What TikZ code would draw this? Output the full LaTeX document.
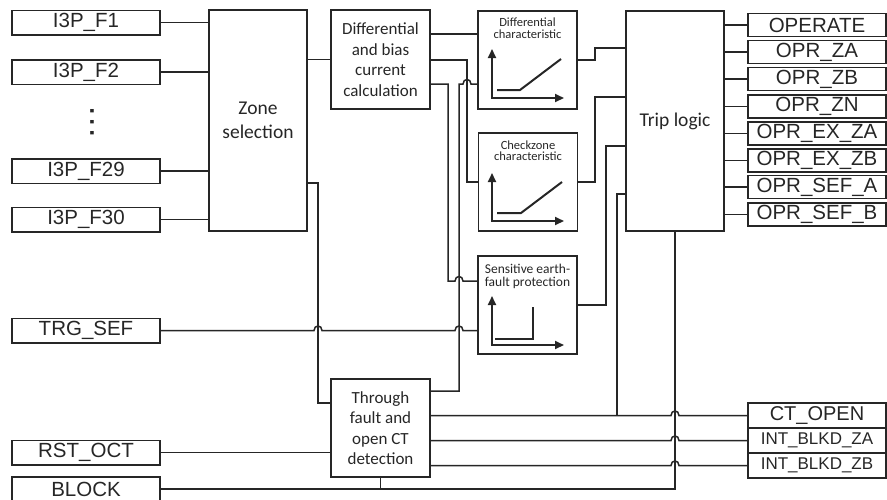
\documentclass[tikz,border=0pt]{standalone}
\usepackage{fontspec}
\newfontfamily\arialf{Liberation Sans}
\newfontfamily\calib{Carlito}
\usetikzlibrary{arrows.meta}
\definecolor{ink}{RGB}{38,38,38}
\begin{document}
\begin{tikzpicture}[x=1pt,y=-1pt,
  box/.style={draw=ink, line width=1.5pt, inner sep=0pt, align=center, text=ink},
  lab/.style={box, minimum width=148pt, minimum height=24.5pt, font=\arialf\fontsize{20.5}{22}\selectfont},
  olab/.style={box, minimum width=138pt, minimum height=23pt, font=\arialf\fontsize{20.5}{22}\selectfont},
  blab/.style={box, minimum width=138pt, minimum height=25pt, font=\arialf\fontsize{20}{22}\selectfont},
  slab/.style={box, minimum width=138pt, minimum height=25pt, font=\arialf\fontsize{17}{20}\selectfont},
  fbox/.style={box, font=\calib\fontsize{17}{20.5}\selectfont},
  cbox/.style={box, minimum width=99pt, minimum height=98pt},
  ctxt/.style={inner sep=0pt, align=center, text=ink, anchor=north, font=\calib\fontsize{12.5}{11.5}\selectfont},
  wire/.style={draw=ink, line width=1.5pt},
  axis/.style={draw=ink, line width=2pt, {Triangle[length=9pt,width=8pt]}-{Triangle[length=9pt,width=8pt]}},
  crv/.style={draw=ink, line width=2pt}]
\useasboundingbox (0,0) rectangle (887,499);

% inputs
\node[lab] (in1) at (86,22.5) {I3P\_F1};
\node[lab] (in2) at (86,72) {I3P\_F2};
\node[inner sep=0pt, text=ink, rotate=90, font=\arialf\bfseries\fontsize{24}{24}\selectfont] (dots) at (92,122) {.\hspace{4.3pt}.\hspace{4.3pt}.};
\node[lab] (in29) at (86,171) {I3P\_F29};
\node[lab] (in30) at (86,219.5) {I3P\_F30};
\node[lab] (trg) at (86,330.5) {TRG\_SEF};
\node[lab] (rst) at (86,452.5) {RST\_OCT};
\node[lab] (blk) at (86,489) {BLOCK};

% function blocks
\node[box, minimum width=98pt, minimum height=221pt, font=\calib\fontsize{19.5}{23.5}\selectfont] (zone) at (258,120.5) {Zone\\selection};
\node[fbox, minimum width=99pt, minimum height=99pt] (dbc) at (380.5,59.5) {Differential\\and bias\\current\\calculation};
\node[fbox, minimum width=99pt, minimum height=98pt] (tf) at (380.5,428) {Through\\fault and\\open CT\\detection};
\node[box, minimum width=98pt, minimum height=220pt, font=\calib\fontsize{19.5}{23}\selectfont] (trip) at (675,121) {Trip logic};

\node[cbox] (dc) at (527.5,60) {};
\node[ctxt] (dct) at (527.5,18) {Differential\\characteristic};
\node[cbox] (cz) at (528,182) {};
\node[ctxt] (czt) at (528,140.5) {Checkzone\\characteristic};
\node[cbox] (sef) at (527.5,305) {};
\node[ctxt, font=\calib\fontsize{13.5}{12.5}\selectfont] (seft) at (527.5,264) {Sensitive earth-\\fault protection};

% characteristic graphs
\draw[axis] (492,49) -- (492,98) -- (564,98);
\draw[crv] (497,90) -- (520,90) -- (561,59);
\draw[axis] (492,173) -- (492,221) -- (564,221);
\draw[crv] (497,213) -- (521,213) -- (562,182);
\draw[axis] (492,296) -- (492,345) -- (564,345);
\draw[crv] (495,339) -- (533,339) -- (533,307);

% outputs
\node[olab] (o1) at (817,25) {OPERATE};
\node[olab] (o2) at (817,52) {OPR\_ZA};
\node[olab] (o3) at (817,79) {OPR\_ZB};
\node[olab] (o4) at (817,106.5) {OPR\_ZN};
\node[olab] (o5) at (817,133.5) {OPR\_EX\_ZA};
\node[olab] (o6) at (817,160.5) {OPR\_EX\_ZB};
\node[olab] (o7) at (817,187) {OPR\_SEF\_A};
\node[olab] (o8) at (817,214.5) {OPR\_SEF\_B};
\node[blab] (co) at (817,415.5) {CT\_OPEN};
\node[slab] (za) at (817,440.5) {INT\_BLKD\_ZA};
\node[slab] (zb) at (817,465.5) {INT\_BLKD\_ZB};

% wires
\foreach \n in {in1,in2,in29,in30} \draw[wire] (\n.east) -- (zone.west |- \n.east);
\foreach \n in {o1,o2,o3,o4,o5,o6,o7,o8} \draw[wire] (trip.east |- \n.west) -- (\n.west);

\draw[wire] (zone.east |- dbc.west) -- (dbc.west);
\draw[wire] (zone.east |- 0,183) -- (318,183) -- (318,403) -- (tf.west |- 0,403);

\draw[wire] (dbc.east |- 0,34) -- (dc.west |- 0,34);
\draw[wire] (dbc.east |- 0,60) -- (467,60) -- (467,182) -- (cz.west);
\draw[wire] (dbc.east |- 0,84) -- (448,84) -- (448,281) -- (455,281)
  .. controls (455,275) and (463,275) .. (463,281) -- (sef.west |- 0,281);
\draw[wire] (tf.east |- 0,391) -- (459,391) -- (459,84) -- (463,84)
  .. controls (463,78) and (471,78) .. (471,84) -- (dc.west |- 0,84);

\draw[wire] (trg.east) -- (314,330.5) .. controls (314,324.5) and (322,324.5) .. (322,330.5)
  -- (455,330.5) .. controls (455,324.5) and (463,324.5) .. (463,330.5) -- (sef.west |- trg.east);

\draw[wire] (dc.east) -- (595,60) -- (595,48) -- (trip.west |- 0,48);
\draw[wire] (cz.east) -- (595,182) -- (595,97) -- (trip.west |- 0,97);
\draw[wire] (sef.east) -- (606,305) -- (606,146) -- (trip.west |- 0,146);

\draw[wire] (tf.east |- co.west) -- (671,415.5) .. controls (671,409.5) and (679,409.5) .. (679,415.5) -- (co.west);
\draw[wire] (tf.east |- za.west) -- (671,440.5) .. controls (671,434.5) and (679,434.5) .. (679,440.5) -- (za.west);
\draw[wire] (tf.east |- zb.west) -- (671,465.5) .. controls (671,459.5) and (679,459.5) .. (679,465.5) -- (zb.west);
\coordinate (j1) at (617,415.5);
\draw[wire] (j1) -- (617,194) -- (trip.west |- 0,194);

\draw[wire] (rst.east) -- (tf.west |- rst.east);
\draw[wire] (blk.east) -| (trip.south);
\draw[wire] (tf.south) -- (tf.south |- blk.east);
\end{tikzpicture}
\end{document}
